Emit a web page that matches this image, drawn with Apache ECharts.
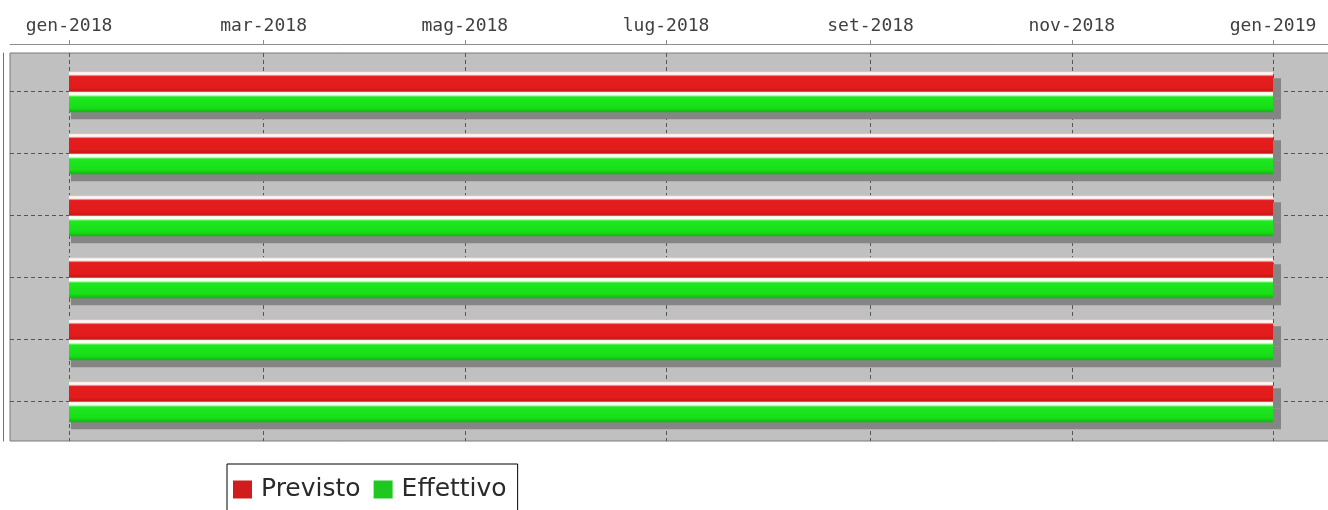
<!DOCTYPE html>
<html>
<head>
<meta charset="utf-8">
<title>Previsto / Effettivo</title>
<script src="https://cdn.jsdelivr.net/npm/echarts@6/dist/echarts.min.js"></script>
<style>
  html, body { margin: 0; padding: 0; background: #fff; }
  #ganttChart { width: 1328px; height: 510px; }
</style>
</head>
<body>
<div id="ganttChart"></div>
<script>
// dati del grafico
const categories = ['Attività 1', 'Attività 2', 'Attività 3', 'Attività 4', 'Attività 5', 'Attività 6']
const previstoStart = ['2018-01-01', '2018-01-01', '2018-01-01', '2018-01-01', '2018-01-01', '2018-01-01']
const previstoEnd = ['2019-01-01', '2019-01-01', '2019-01-01', '2019-01-01', '2019-01-01', '2019-01-01']
const effettivoStart = ['2018-01-01', '2018-01-01', '2018-01-01', '2018-01-01', '2018-01-01', '2018-01-01']
const effettivoEnd = ['2019-01-01', '2019-01-01', '2019-01-01', '2019-01-01', '2019-01-01', '2019-01-01']
const tickDates = ['2018-01-01', '2018-03-01', '2018-05-01', '2018-07-01', '2018-09-01', '2018-11-01', '2019-01-01']
const monthNames = ['gen', 'feb', 'mar', 'apr', 'mag', 'giu', 'lug', 'ago', 'set', 'ott', 'nov', 'dic']

function toTime (str) {
  const p = str.split('-')
  return new Date(+p[0], +p[1] - 1, +p[2]).getTime()
}

function formatMonth (value) {
  const d = new Date(value)
  return monthNames[d.getMonth()] + '-' + d.getFullYear()
}

function buildData (starts, ends) {
  return categories.map((c, i) => [i, toTime(starts[i]), toTime(ends[i])])
}

const allTimes = previstoStart.concat(previstoEnd, effettivoStart, effettivoEnd).map(toTime)
const rangeStart = Math.min.apply(null, allTimes)
const rangeEnd = Math.max.apply(null, allTimes)
const axisPad = (rangeEnd - rangeStart) * 0.049
const tickValues = tickDates.map(toTime)

// barra con ombra e sfumatura (stile JFreeChart)
function makeRenderItem (upper, stops) {
  return function (params, api) {
    const cat = api.value(0)
    const p1 = api.coord([api.value(1), cat])
    const p2 = api.coord([api.value(2), cat])
    const h = api.size([0, 1])[1] * 0.33
    const y = upper ? p1[1] - h : p1[1]
    const w = p2[0] - p1[0]
    return {
      type: 'group',
      children: [
        {
          type: 'rect',
          shape: { x: p1[0] + 2, y: y + 7, width: w + 6, height: h },
          style: { fill: '#858585' }
        },
        {
          type: 'rect',
          shape: { x: p1[0], y: y, width: w, height: h },
          style: { fill: new echarts.graphic.LinearGradient(0, 0, 0, 1, stops) }
        }
      ]
    }
  }
}

const redStops = [
  { offset: 0, color: '#eeb0b0' },
  { offset: 0.08, color: '#ffffff' },
  { offset: 0.16, color: '#fbe8e8' },
  { offset: 0.26, color: '#e41e1e' },
  { offset: 0.8, color: '#e21b1b' },
  { offset: 1, color: '#c01616' }
]
const greenStops = [
  { offset: 0, color: '#d8f0c8' },
  { offset: 0.08, color: '#ffffff' },
  { offset: 0.16, color: '#eaffe8' },
  { offset: 0.26, color: '#1ee81e' },
  { offset: 0.8, color: '#18de18' },
  { offset: 1, color: '#10b410' }
]

const chart = echarts.init(document.getElementById('ganttChart'))

chart.setOption({
  animation: false,
  backgroundColor: '#fff',
  legend: {
    left: 227,
    top: 464,
    padding: [13, 11, 20, 6],
    borderColor: '#000',
    borderWidth: 1,
    itemWidth: 19,
    itemHeight: 18,
    itemGap: 13,
    icon: 'rect',
    textStyle: { fontFamily: 'DejaVu Sans', fontSize: 25, color: '#2a2a2a', padding: [0, 0, 0, 4] },
    data: ['Previsto', 'Effettivo']
  },
  grid: [
    { // sfondo area del grafico
      left: 10, right: -4, top: 53, bottom: 69,
      show: true,
      backgroundColor: '#c0c0c0',
      borderColor: '#7a7a7a',
      borderWidth: 1,
      containLabel: false,
      outerBoundsMode: 'none'
    },
    { // righe delle attività
      left: 10, right: -4, top: 91.7, bottom: 108.3,
      containLabel: false,
      outerBoundsMode: 'none'
    }
  ],
  xAxis: [
    {
      type: 'value',
      gridIndex: 0,
      position: 'top',
      offset: 9,
      min: rangeStart - axisPad,
      max: rangeEnd + axisPad,
      axisLine: { show: true, onZero: false, lineStyle: { color: '#8c8c8c', width: 1 } },
      axisTick: { show: true, customValues: tickValues, length: 4, lineStyle: { color: '#8c8c8c' } },
      axisLabel: {
        customValues: tickValues,
        formatter: formatMonth,
        margin: 9,
        fontFamily: 'DejaVu Sans Mono',
        fontSize: 18,
        color: '#404040'
      },
      splitLine: { show: true, lineStyle: { color: '#555', width: 1, type: [4, 3] } }
    },
    {
      type: 'value',
      gridIndex: 1,
      show: false,
      min: rangeStart - axisPad,
      max: rangeEnd + axisPad
    }
  ],
  yAxis: [
    {
      type: 'value',
      gridIndex: 0,
      min: 0,
      max: 1,
      offset: 7,
      axisLine: { show: true, onZero: false, lineStyle: { color: '#707070', width: 1 } },
      axisTick: { show: false },
      axisLabel: { show: false },
      splitLine: { show: false }
    },
    {
      type: 'value',
      gridIndex: 1,
      inverse: true,
      min: 0,
      max: categories.length - 1,
      interval: 1,
      axisLine: { show: false },
      axisTick: { show: false },
      axisLabel: { show: false },
      splitLine: { show: true, lineStyle: { color: '#555', width: 1, type: [4, 3] } }
    }
  ],
  series: [
    {
      name: 'Previsto',
      type: 'custom',
      xAxisIndex: 1,
      yAxisIndex: 1,
      itemStyle: { color: '#d01c1c' },
      renderItem: makeRenderItem(true, redStops),
      encode: { x: [1, 2], y: 0 },
      data: buildData(previstoStart, previstoEnd)
    },
    {
      name: 'Effettivo',
      type: 'custom',
      xAxisIndex: 1,
      yAxisIndex: 1,
      itemStyle: { color: '#1ec81e' },
      renderItem: makeRenderItem(false, greenStops),
      encode: { x: [1, 2], y: 0 },
      data: buildData(effettivoStart, effettivoEnd)
    }
  ]
})
</script>
</body>
</html>
